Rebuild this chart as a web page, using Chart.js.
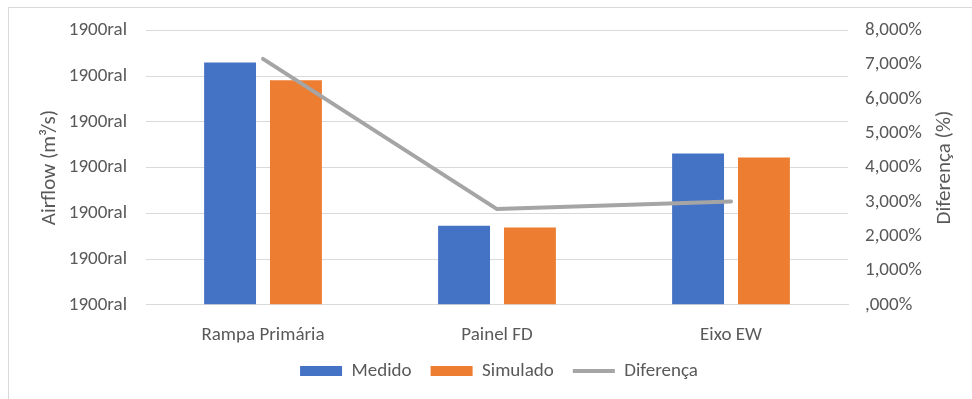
<!DOCTYPE html>
<html lang="pt">
<head>
<meta charset="utf-8">
<title>Airflow – Medido vs Simulado</title>
<script src="https://cdn.jsdelivr.net/npm/chart.js@4.4.1/dist/chart.umd.min.js"></script>
<style>
  html, body { margin: 0; padding: 0; background: #ffffff; overflow: hidden; }
  #wrap { position: relative; width: 972px; height: 399px; }
  #frame {
    position: absolute; left: 8px; top: 7px; width: 1200px; height: 600px;
    border-left: 1px solid #d9d9d9; border-top: 1px solid #d9d9d9;
    pointer-events: none;
  }
  canvas { position: absolute; left: 0; top: 0; }
</style>
</head>
<body>
<div id="wrap">
  <canvas id="chart" width="972" height="399"></canvas>
  <div id="frame"></div>
</div>
<script>
// Categories and series
const categories = ['Rampa Primária', 'Painel FD', 'Eixo EW'];
const medido = [5.30, 1.73, 3.31];
const simulado = [4.91, 1.69, 3.22];
const diferenca = [7.17, 2.79, 3.01]; // percent

// Axis tick labels (left axis shows the same text on every tick)
const leftTickLabels = ['1900ral', '1900ral', '1900ral', '1900ral', '1900ral', '1900ral', '1900ral'];
const rightTickLabels = [',000%', '1,000%', '2,000%', '3,000%', '4,000%', '5,000%', '6,000%', '7,000%', '8,000%'];

const FONT = "Carlito, Calibri, Lato, 'Open Sans', sans-serif";
const TEXT = '#595959';
const GRID = '#d9d9d9';
const TICK_SIZE = 19;
const TITLE_SIZE = 21;

// Right-hand axis title reads bottom-to-top, so it is drawn by hand
const rightTitle = {
  id: 'rightTitle',
  afterDraw(chart) {
    const ctx = chart.ctx;
    const area = chart.chartArea;
    ctx.save();
    ctx.translate(945, (area.top + area.bottom) / 2);
    ctx.rotate(-Math.PI / 2);
    ctx.font = TITLE_SIZE + 'px ' + FONT;
    ctx.fillStyle = TEXT;
    ctx.textAlign = 'center';
    ctx.textBaseline = 'middle';
    ctx.fillText('Diferença (%)', 0, 0);
    ctx.restore();
  }
};

new Chart(document.getElementById('chart'), {
  type: 'bar',
  data: {
    labels: categories,
    datasets: [
      {
        label: 'Medido', data: medido, yAxisID: 'y',
        backgroundColor: '#4472C4', borderWidth: 0, pointStyle: 'rect', order: 1,
        categoryPercentage: 0.563, barPercentage: 0.788
      },
      {
        label: 'Simulado', data: simulado, yAxisID: 'y',
        backgroundColor: '#ED7D31', borderWidth: 0, pointStyle: 'rect', order: 1,
        categoryPercentage: 0.563, barPercentage: 0.788
      },
      {
        type: 'line', label: 'Diferença', data: diferenca, yAxisID: 'y2',
        borderColor: '#A5A5A5', backgroundColor: '#A5A5A5', borderWidth: 4,
        borderCapStyle: 'round', borderJoinStyle: 'round',
        pointRadius: 0, pointHoverRadius: 0, pointStyle: 'line', tension: 0, order: 0
      }
    ]
  },
  options: {
    responsive: false,
    animation: false,
    devicePixelRatio: 1,
    layout: { padding: { left: 26, right: 0, top: 30, bottom: 8.6 } },
    plugins: {
      tooltip: { enabled: false },
      legend: {
        position: 'bottom',
        labels: {
          usePointStyle: true,
          pointStyleWidth: 42,
          boxHeight: 10,
          padding: 19,
          color: TEXT,
          font: { family: FONT, size: TICK_SIZE },
          sort: (a, b) => a.datasetIndex - b.datasetIndex
        }
      }
    },
    scales: {
      x: {
        afterFit(scale) { scale.height = 37.6; },
        grid: { display: false, drawTicks: false },
        border: { display: true, color: GRID, width: 1 },
        ticks: { color: TEXT, font: { family: FONT, size: TICK_SIZE }, padding: 18.6, maxRotation: 0 }
      },
      y: {
        position: 'left',
        min: 0, max: 6,
        afterFit(scale) { scale.width = 120; },
        afterBuildTicks(scale) {
          scale.ticks = leftTickLabels.map((_, i) => ({ value: i }));
        },
        grid: { color: GRID, lineWidth: 1, drawTicks: false },
        border: { display: false },
        ticks: {
          color: TEXT, font: { family: FONT, size: TICK_SIZE }, padding: 19,
          callback: (v, i) => leftTickLabels[i]
        },
        title: {
          display: true, text: 'Airflow (m³/s)', color: TEXT,
          font: { family: FONT, size: TITLE_SIZE }, padding: { top: 11, bottom: 0 }
        }
      },
      y2: {
        position: 'right',
        min: 0, max: 8,
        afterFit(scale) { scale.width = 124; },
        afterBuildTicks(scale) {
          scale.ticks = rightTickLabels.map((_, i) => ({ value: i }));
        },
        grid: { display: false, drawTicks: false },
        border: { display: false },
        ticks: {
          color: TEXT, font: { family: FONT, size: TICK_SIZE }, padding: 17,
          callback: (v, i) => rightTickLabels[i]
        }
      }
    }
  },
  plugins: [rightTitle]
});
</script>
</body>
</html>
